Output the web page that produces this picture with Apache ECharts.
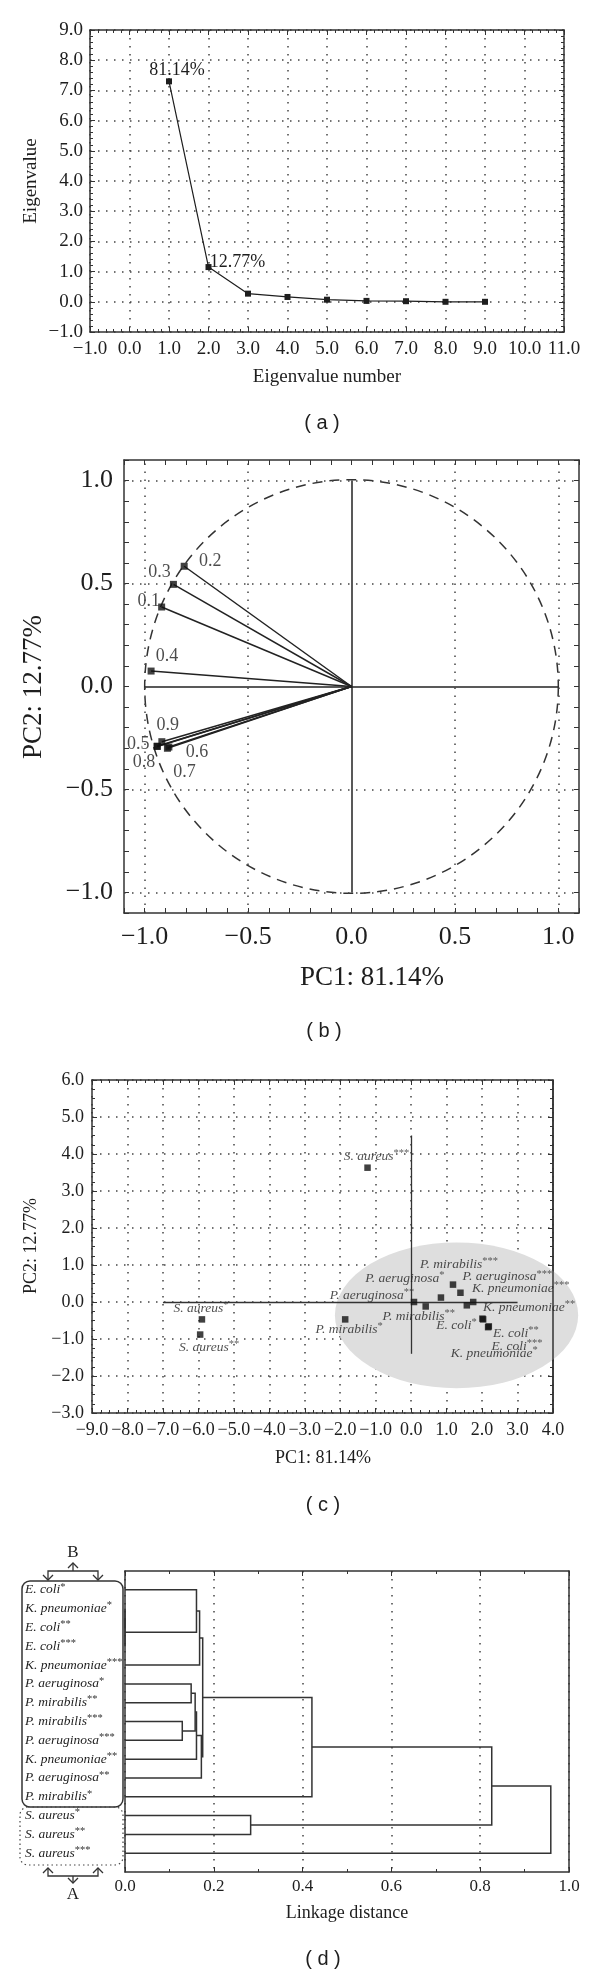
<!DOCTYPE html>
<html><head><meta charset="utf-8">
<script src="https://cdn.jsdelivr.net/npm/echarts@6/dist/echarts.min.js"></script>
<style>html,body{margin:0;padding:0;background:#fff}#c{width:600px;height:1979px}</style>
</head><body><div id="c"></div>
<script>
// ---------------- DATA ----------------
// (a) scree plot
const eigenNumber = [1, 2, 3, 4, 5, 6, 7, 8, 9];
const eigenValue  = [7.30, 1.15, 0.27, 0.16, 0.07, 0.03, 0.02, 0.00, 0.00];
const eigenLabels = ['81.14%', '12.77%', '', '', '', '', '', '', ''];

// (b) loadings
const loadingNames = ['0.1', '0.2', '0.3', '0.4', '0.5', '0.6', '0.7', '0.8', '0.9'];
const loadingPC1   = [-0.918, -0.809, -0.861, -0.969, -0.939, -0.883, -0.890, -0.940, -0.917];
const loadingPC2   = [0.386, 0.584, 0.496, 0.075, -0.291, -0.294, -0.300, -0.290, -0.268];

// (c) scores
const scoreNames = ['S. aureus***', 'S. aureus*', 'S. aureus**', 'P. mirabilis*', 'P. aeruginosa**',
  'P. mirabilis**', 'P. aeruginosa*', 'P. mirabilis***', 'P. aeruginosa***', 'K. pneumoniae***',
  'K. pneumoniae**', 'E. coli*', 'E. coli**', 'E. coli***', 'K. pneumoniae*'];
const scorePC1 = [-1.23, -5.90, -5.95, -1.86, 0.08, 0.41, 0.84, 1.18, 1.39, 1.57, 1.75, 2.01, 2.19, 2.17, 2.03];
const scorePC2 = [3.63, -0.47, -0.88, -0.47, 0.00, -0.12, 0.12, 0.47, 0.25, -0.09, 0.00, -0.45, -0.66, -0.68, -0.47];
const groupEllipse = [1.28, -0.36, 3.43, 1.97]; // centre x, centre y, radius x, radius y (data units)

// (d) dendrogram
const leafNames = ['E. coli*', 'K. pneumoniae*', 'E. coli**', 'E. coli***', 'K. pneumoniae***',
  'P. aeruginosa*', 'P. mirabilis**', 'P. mirabilis***', 'P. aeruginosa***', 'K. pneumoniae**',
  'P. aeruginosa**', 'P. mirabilis*', 'S. aureus*', 'S. aureus**', 'S. aureus***'];
// merges: cluster index 15+k is created by merge k
const mergeLeft   = [1, 15, 0, 17, 5, 7, 19, 21, 22, 18, 24, 12, 25, 27];
const mergeRight  = [2, 3, 16, 4, 6, 8, 20, 9, 10, 23, 11, 13, 26, 14];
const mergeHeight = [0.0, 0.0, 0.161, 0.168, 0.149, 0.129, 0.158, 0.161, 0.172, 0.175, 0.421, 0.283, 0.826, 0.959];

// ---------------- STYLE / LAYOUT ----------------
const SERIF = 'Liberation Serif';
const INK = '#1e1e1e';
const FRAME = '#333';
const DOT = [1.5, 6.5];
const offsetsA = [[8, -11], [29, -5]];
const offsetsB = [[-13, -6], [26, -5], [-14, -12], [16, -15], [-19, -2], [28, 5], [17, 24], [-13, 16], [6, -16]];
const offsetsC = [[9, -11], [-1, -11], [9, 13], [4, 10], [-42, -7], [-7, 10], [-36, -19], [6, -20], [47, -16],
  [54, -17], [56, 5], [-26, 7], [27, 7], [29, 19], [11, 34]];

function fmt(v) { if (Math.abs(v) < 1e-9) return '0.0'; return v.toFixed(1).replace('-', '\u2212'); }
function richName(s) { const m = s.match(/^(.*?)(\*+)$/); return m ? '{n|' + m[1] + '}{s|' + m[2] + '}' : '{n|' + s + '}'; }
const richStyle = {
  n: { fontFamily: SERIF, fontStyle: 'italic', fontSize: 13.5, color: INK },
  s: { fontFamily: SERIF, fontSize: 10.5, color: '#333', verticalAlign: 'top', padding: [0, 0, 6, 0] }
};

function axisPair(g, o) {
  const base = { type: 'value', gridIndex: g, min: o.min, max: o.max, interval: o.interval };
  const main = Object.assign({}, base, {
    position: o.pos,
    axisLine: { show: true, onZero: false, lineStyle: { color: FRAME, width: 1.5 } },
    axisTick: { show: o.tick !== false, inside: true, length: 5, lineStyle: { color: FRAME, width: 1 } },
    minorTick: { show: !!o.minor, splitNumber: o.minor || 5, length: 3, lineStyle: { color: FRAME, width: 1 } },
    axisLabel: Object.assign({ show: true, margin: o.margin, fontFamily: SERIF, fontSize: o.fs, color: INK,
      formatter: o.formatter || fmt }, o.labelExtra || {}),
    splitLine: { show: !!o.split, lineStyle: { color: '#444', width: 1.5, type: DOT } }
  });
  const mirror = Object.assign({}, base, {
    position: o.mpos,
    axisLine: { show: true, onZero: false, lineStyle: { color: FRAME, width: 1.5 } },
    axisTick: { show: o.mtick !== false, inside: true, length: 5, lineStyle: { color: FRAME, width: 1 } },
    minorTick: { show: !!o.minor && o.mtick !== false, splitNumber: o.minor || 5, length: 3, lineStyle: { color: FRAME, width: 1 } },
    axisLabel: { show: false }, splitLine: { show: false }
  });
  return [main, mirror];
}

const halfOnly = v => (Math.abs(Math.round(v * 2) - v * 2) < 1e-6) ? fmt(v) : '';

const xAxes = [].concat(
  axisPair(0, { min: -1, max: 11, interval: 1, pos: 'bottom', mpos: 'top', margin: 8, fs: 19, split: true, minor: 5 }),
  axisPair(1, { min: -1.1, max: 1.1, interval: 0.1, pos: 'bottom', mpos: 'top', margin: 11, fs: 26, formatter: halfOnly }),
  axisPair(2, { min: -9, max: 4, interval: 1, pos: 'bottom', mpos: 'top', margin: 8, fs: 18, split: true, minor: 4 }),
  axisPair(3, { min: 0, max: 1, interval: 0.2, pos: 'bottom', mpos: 'top', margin: 6, fs: 17, split: true, minor: 2 })
);
const yAxes = [].concat(
  axisPair(0, { min: -1, max: 9, interval: 1, pos: 'left', mpos: 'right', margin: 7, fs: 19, split: true, minor: 5 }),
  axisPair(1, { min: -1.1, max: 1.1, interval: 0.1, pos: 'left', mpos: 'right', margin: 11, fs: 26, formatter: halfOnly }),
  axisPair(2, { min: -3, max: 6, interval: 1, pos: 'left', mpos: 'right', margin: 8, fs: 18, split: true, minor: 4 }),
  axisPair(3, { min: -1, max: 15, interval: 1, pos: 'left', mpos: 'right', margin: 100, fs: 13.5, tick: false, mtick: false,
    formatter: v => (v >= 0 && v < leafNames.length && Math.abs(v - Math.round(v)) < 1e-9) ? richName(leafNames[Math.round(v)]) : '',
    labelExtra: { align: 'left', rich: richStyle } })
);
yAxes[6].inverse = true; yAxes[7].inverse = true;

// dendrogram layout from merges
const nodeY = leafNames.map((_, i) => i);
const nodeH = leafNames.map(() => 0);
const links = [];
for (let k = 0; k < mergeLeft.length; k++) {
  const a = mergeLeft[k], b = mergeRight[k];
  links.push([nodeH[a], nodeY[a], nodeH[b], nodeY[b], mergeHeight[k]]);
  nodeY.push((nodeY[a] + nodeY[b]) / 2);
  nodeH.push(mergeHeight[k]);
}

const dotMark = (axis, vals) => vals.map(v => ({ [axis]: v }));

const series = [
  // (a)
  { type: 'line', xAxisIndex: 0, yAxisIndex: 0, symbol: 'rect', symbolSize: 6,
    lineStyle: { color: INK, width: 1.2 }, itemStyle: { color: INK },
    data: eigenNumber.map((n, i) => ({ value: [n, eigenValue[i]],
      label: eigenLabels[i] ? { show: true, formatter: eigenLabels[i], position: 'inside', offset: offsetsA[i],
        fontFamily: SERIF, fontSize: 18, color: INK } : { show: false } })) },
  // (b) circle
  { type: 'custom', xAxisIndex: 2, yAxisIndex: 2, clip: false, silent: true, z: 1,
    encode: { x: 0, y: 1 }, data: [[0, 0, 1]],
    renderItem: (p, api) => { const c = api.coord([api.value(0), api.value(1)]); const r = api.size([api.value(2), api.value(2)])[0];
      return { type: 'circle', shape: { cx: c[0], cy: c[1], r: r }, style: { fill: null, stroke: '#333', lineWidth: 1.5, lineDash: [10, 7] } }; },
    markLine: { silent: true, symbol: 'none', label: { show: false },
      lineStyle: { color: '#444', width: 1.5, type: DOT },
      data: dotMark('xAxis', [-1, -0.5, 0.5, 1]).concat(dotMark('yAxis', [-1, -0.5, 0.5, 1])) } },
  { type: 'lines', coordinateSystem: 'cartesian2d', xAxisIndex: 2, yAxisIndex: 2, z: 2, silent: true,
    lineStyle: { color: '#222', width: 1.5, opacity: 1 },
    data: [{ coords: [[-1, 0], [1, 0]] }, { coords: [[0, -1], [0, 1]] }]
      .concat(loadingNames.map((n, i) => ({ coords: [[0, 0], [loadingPC1[i], loadingPC2[i]]] }))) },
  { type: 'scatter', xAxisIndex: 2, yAxisIndex: 2, symbol: 'rect', symbolSize: 7, z: 3,
    itemStyle: { color: '#111' },
    data: loadingNames.map((n, i) => ({ value: [loadingPC1[i], loadingPC2[i]],
      label: { show: true, formatter: n, position: 'inside', offset: offsetsB[i], fontFamily: SERIF, fontSize: 18, color: INK } })) },
  // (c)
  { type: 'custom', xAxisIndex: 4, yAxisIndex: 4, clip: false, silent: true, z: 1,
    encode: { x: 0, y: 1 }, data: [groupEllipse],
    renderItem: (p, api) => { const c = api.coord([api.value(0), api.value(1)]); const s = api.size([api.value(2), api.value(3)]);
      return { type: 'circle', x: c[0], y: c[1], scaleX: 1, scaleY: s[1] / s[0], shape: { cx: 0, cy: 0, r: s[0] }, style: { fill: '#dedede', stroke: null } }; } },
  { type: 'lines', coordinateSystem: 'cartesian2d', xAxisIndex: 4, yAxisIndex: 4, z: 2, silent: true, clip: false,
    lineStyle: { color: '#333', width: 1.3, opacity: 1 },
    data: [{ coords: [[-7, 0], [3, 0]] }, { coords: [[0, -1.4], [0, 4.5]] },
      { coords: [[4, -3], [4, 6]], lineStyle: { width: 1.5 } }] },
  { type: 'scatter', xAxisIndex: 4, yAxisIndex: 4, symbol: 'rect', symbolSize: 6.5, z: 3,
    itemStyle: { color: '#111' },
    data: scoreNames.map((n, i) => ({ value: [scorePC1[i], scorePC2[i]],
      label: { show: true, formatter: richName(n), position: 'inside', offset: offsetsC[i], rich: richStyle } })) },
  // (d)
  { type: 'custom', xAxisIndex: 6, yAxisIndex: 6, clip: false, silent: true, z: 3,
    encode: { x: [0, 2, 4], y: [1, 3] }, data: links,
    renderItem: (p, api) => {
      const h1 = api.value(0), y1 = api.value(1), h2 = api.value(2), y2 = api.value(3), h = api.value(4);
      return { type: 'polyline', shape: { points: [api.coord([h1, y1]), api.coord([h, y1]), api.coord([h, y2]), api.coord([h2, y2])] },
        style: { fill: null, stroke: '#333', lineWidth: 1.5 } };
    } }
];

function txt(x, y, text, size, opts) {
  opts = opts || {};
  return { type: 'text', x: x, y: y, rotation: opts.rot || 0, z: 10,
    style: { text: text, fill: INK, font: (opts.style || '') + ' ' + size + 'px "' + (opts.family || SERIF) + '"',
      align: 'center', verticalAlign: 'middle', textAlign: 'center', textVerticalAlign: 'middle' } };
}
function pl(points, opts) {
  opts = opts || {};
  return { type: 'polyline', z: 10, shape: { points: points }, style: { fill: null, stroke: '#333', lineWidth: opts.w || 1.3 } };
}
const SANS = 'Liberation Sans';
const graphics = [
  txt(31, 181, 'Eigenvalue', 19, { rot: Math.PI / 2 }),
  txt(327, 377, 'Eigenvalue number', 19),
  txt(322, 423, '( a )', 20, { family: SANS }),
  txt(34, 687, 'PC2: 12.77%', 27, { rot: Math.PI / 2 }),
  txt(372, 978, 'PC1: 81.14%', 27),
  txt(324, 1031, '( b )', 20, { family: SANS }),
  txt(31, 1246, 'PC2: 12.77%', 18, { rot: Math.PI / 2 }),
  txt(323, 1458, 'PC1: 81.14%', 18),
  txt(323, 1505, '( c )', 20, { family: SANS }),
  txt(347, 1913, 'Linkage distance', 18),
  txt(323, 1959, '( d )', 20, { family: SANS }),
  // group boxes and brackets for (d)
  { type: 'rect', z: 10, shape: { x: 22, y: 1581, width: 101, height: 226, r: 8 }, style: { fill: null, stroke: '#333', lineWidth: 1.5 } },
  { type: 'rect', z: 10, shape: { x: 20, y: 1807, width: 103, height: 58, r: 8 }, style: { fill: null, stroke: '#444', lineWidth: 1.2, lineDash: [1.5, 3] } },
  txt(73, 1553, 'B', 17),
  pl([[48, 1580], [48, 1571], [98, 1571], [98, 1580]]),
  pl([[43, 1575], [48, 1580], [53, 1575]]), pl([[93, 1575], [98, 1580], [103, 1575]]),
  pl([[73, 1571], [73, 1563]]), pl([[68, 1568], [73, 1563], [78, 1568]]),
  txt(73, 1895, 'A', 17),
  pl([[48, 1868], [48, 1876], [98, 1876], [98, 1868]]),
  pl([[43, 1873], [48, 1868], [53, 1873]]), pl([[93, 1873], [98, 1868], [103, 1873]]),
  pl([[73, 1876], [73, 1883]]), pl([[68, 1878], [73, 1883], [78, 1878]])
];

const chart = echarts.init(document.getElementById('c'), null, { renderer: 'canvas' });
chart.setOption({
  animation: false,
  backgroundColor: '#fff',
  grid: [
    { left: 90, top: 30, width: 474, height: 302 },
    { left: 124, top: 460, width: 455, height: 453 },
    { left: 92, top: 1080, width: 461, height: 333 },
    { left: 125, top: 1571, width: 444, height: 301 }
  ],
  xAxis: xAxes,
  yAxis: yAxes,
  series: series,
  graphic: { elements: graphics }
});
</script></body></html>
